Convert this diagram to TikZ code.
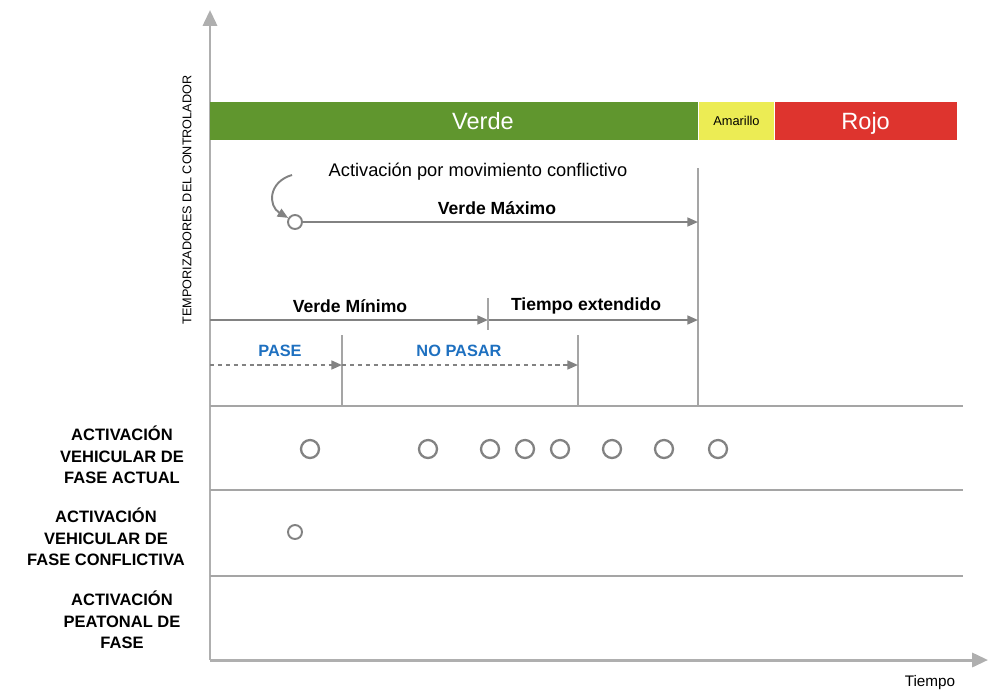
\documentclass[tikz,border=0pt]{standalone}
\usepackage{fontspec}
\setmainfont{Liberation Sans}
\usetikzlibrary{arrows.meta}
\definecolor{verde}{RGB}{96,150,46}
\definecolor{amarillo}{RGB}{236,236,84}
\definecolor{rojo}{RGB}{222,52,46}
\definecolor{axisgray}{RGB}{175,175,175}
\definecolor{gridgray}{RGB}{165,165,165}
\definecolor{timergray}{RGB}{130,130,130}
\definecolor{pasblue}{RGB}{30,112,192}
\begin{document}
\begin{tikzpicture}[x=0.02cm, y=-0.02cm,
    axis/.style={draw=axisgray, line width=1.7pt, -{Triangle[length=9pt, width=8pt]}},
    rowline/.style={draw=gridgray, line width=1pt},
    mark line/.style={draw=gridgray, line width=0.9pt},
    timer/.style={draw=timergray, line width=1.1pt, -{Triangle[length=6pt, width=5pt]}},
    walk/.style={timer, dash pattern=on 2.5pt off 2pt},
    phase/.style={rectangle, inner sep=0, minimum height=0.76cm, anchor=west, text height=12.5pt, text depth=3pt, text=white, font=\fontsize{13.4}{15}\selectfont},
    det/.style={circle, draw=timergray, line width=1.3pt, inner sep=0, minimum size=0.36cm},
    small det/.style={det, line width=1.1pt, minimum size=0.28cm},
    rowlabel/.style={align=center, font=\fontsize{9.4}{12.2}\selectfont\bfseries},
    timelabel/.style={font=\fontsize{10}{12}\selectfont\bfseries},
    walklabel/.style={font=\fontsize{9.3}{11}\selectfont\bfseries, text=pasblue}
]
    \useasboundingbox (0,0) rectangle (989,690);

    \coordinate (origin) at (210,660);
    \coordinate (ytop) at (210,10);
    \coordinate (xend) at (988,660);
    \draw [axis] (origin) -- (ytop);
    \draw [axis] (origin) -- (xend);
    \node [font=\fontsize{8.7}{10}\selectfont] (tiempo) at (930,683) {Tiempo};
    \node [rotate=90, font=\fontsize{7.2}{8}\selectfont] (temp) at (187,200) {TEMPORIZADORES DEL CONTROLADOR};

    \node [phase, fill=verde, minimum width=9.76cm] (verde) at (210,121) {};
    \node [phase, anchor=center] (verde text) at (483,121) {Verde};
    \node [phase, fill=amarillo, minimum width=1.5cm, text=black, text height=7.5pt, text depth=2pt, font=\fontsize{7.3}{9}\selectfont] (amarillo) at (verde.east) {Amarillo};
    \node [phase, fill=rojo, minimum width=3.64cm] (rojo) at (amarillo.east) {Rojo};

    \coordinate (fin top) at (698,168);
    \coordinate (fin bot) at (698,406);
    \draw [mark line] (fin top) -- (fin bot);
    \coordinate (pase top) at (342,335);
    \coordinate (pase bot) at (342,406);
    \draw [mark line] (pase top) -- (pase bot);
    \coordinate (nopasar top) at (578,335);
    \coordinate (nopasar bot) at (578,406);
    \draw [mark line] (nopasar top) -- (nopasar bot);

    \node [font=\fontsize{10.4}{12}\selectfont] (conflicto) at (478,172) {Activación por movimiento conflictivo};
    \coordinate (curve) at (292,175);
    \node [small det] (cmax) at (295,222) {};
    \draw [timer] (curve) .. controls (268,182) and (268,206) .. (cmax);
    \coordinate (maxend) at (698,222);
    \draw [timer] (cmax) -- (maxend);
    \node [timelabel] (vmax) at (497,208) {Verde Máximo};

    \coordinate (t0) at (210,320);
    \coordinate (t1) at (488,320);
    \coordinate (t2) at (698,320);
    \draw [timer] (t0) -- (t1);
    \draw [timer] (t1) -- (t2);
    \coordinate (tick top) at (488,298);
    \coordinate (tick bot) at (488,330);
    \draw [mark line] (tick top) -- (tick bot);
    \node [timelabel] (vmin) at (350,306) {Verde Mínimo};
    \node [timelabel] (ext) at (586,306) {Tiempo extendido};

    \coordinate (w0) at (210,365);
    \coordinate (w1) at (342,365);
    \coordinate (w2) at (578,365);
    \draw [walk] (w0) -- (w1);
    \draw [walk] (w1) -- (w2);
    \node [walklabel] (pase) at (280,351) {PASE};
    \node [walklabel] (nopasar) at (459,351) {NO PASAR};

    \foreach \y [count=\i] in {406,490,576} {
        \coordinate (row\i a) at (210,\y);
        \coordinate (row\i b) at (963,\y);
        \draw [rowline] (row\i a) -- (row\i b);
    }

    \foreach \x [count=\i] in {310,428,490,525,560,612,664,718}
        \node [det] (act\i) at (\x,449) {};
    \node [small det] (conf1) at (295,532) {};

    \node [rowlabel] (actual) at (122,455) {ACTIVACIÓN\\VEHICULAR DE\\FASE ACTUAL};
    \node [rowlabel] (conflictiva) at (106,537) {ACTIVACIÓN\\VEHICULAR DE\\FASE CONFLICTIVA};
    \node [rowlabel] (peatonal) at (122,620) {ACTIVACIÓN\\PEATONAL DE\\FASE};
\end{tikzpicture}
\end{document}
